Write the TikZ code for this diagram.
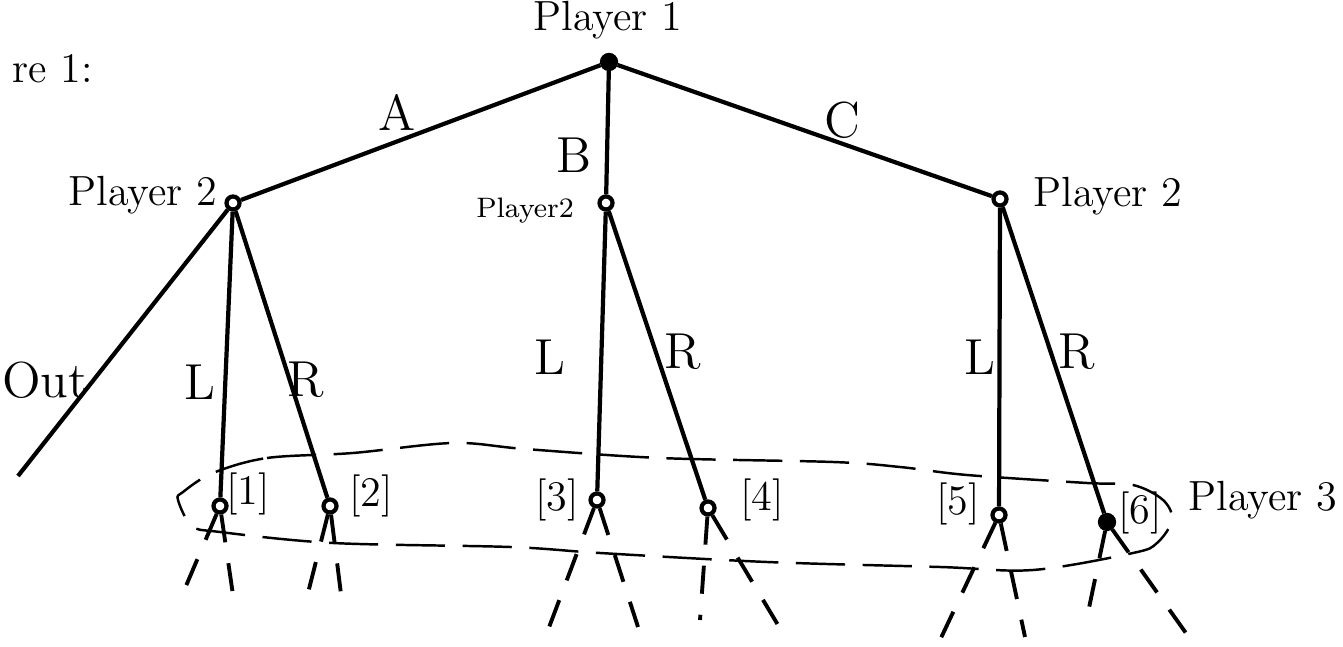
\documentclass[tikz,border=0pt]{standalone}
\usepackage{tikz}
\usetikzlibrary{arrows.meta, positioning}

\begin{document}
\begin{tikzpicture}[x=1cm, y=1cm, font=\large,
    decnode/.style={circle, draw, line width=1.2pt, fill=white, inner sep=0pt, minimum size=0.13cm},
    endnode/.style={circle, draw, line width=1.2pt, fill=black, inner sep=0pt, minimum size=0.14cm},
    branch/.style={line width=1.2pt},
    future/.style={line width=1.1pt, dash pattern=on 8pt off 6pt},
    moveLabel/.style={font=\Large}]

    %% ── Frame (fixes the page size) ───────────────────────────────────────
    \useasboundingbox (0,0) rectangle (13.43, 6.47);

    %% Caption fragment
    \node[anchor=west] (caption) at (0.0, 5.78) {re 1:};

    %% ═══ Decision nodes ═══════════════════════════════════════════════════
    \node[endnode] (root) at (6.09, 5.85) {};
    \node (rootLabel) at (6.08, 6.27) {Player 1};

    \node[decnode] (pTwoA) at (2.33, 4.44) {};
    \node (pTwoALabel) at (1.43, 4.52) {Player 2};

    \node[decnode] (pTwoB) at (6.06, 4.44) {};
    \node[font=\footnotesize] (pTwoBLabel) at (5.25, 4.36) {Player2};

    \node[decnode] (pTwoC) at (10.00, 4.48) {};
    \node (pTwoCLabel) at (11.08, 4.51) {Player 2};

    %% Player 3 nodes
    \node[decnode] (nOne)   at (2.20, 1.41) {};
    \node[decnode] (nTwo)   at (3.30, 1.41) {};
    \node[decnode] (nThree) at (5.97, 1.47) {};
    \node[decnode] (nFour)  at (7.08, 1.39) {};
    \node[decnode] (nFive)  at (9.99, 1.32) {};
    \node[endnode] (nSix)   at (11.07, 1.25) {};

    \node (tagOne)   at (2.48, 1.53) {[1]};
    \node (tagTwo)   at (3.71, 1.51) {[2]};
    \node (tagThree) at (5.57, 1.47) {[3]};
    \node (tagFour)  at (7.62, 1.47) {[4]};
    \node (tagFive)  at (9.58, 1.43) {[5]};
    \node (tagSix)   at (11.40, 1.34) {[6]};

    \node (pThreeLabel) at (12.63, 1.47) {Player 3};

    %% ═══ Branches ═════════════════════════════════════════════════════════
    \coordinate (outEnd) at (0.18, 1.71);

    \draw[branch] (root) -- (pTwoA);
    \draw[branch] (root) -- (pTwoB);
    \draw[branch] (root) -- (pTwoC);

    \draw[branch] (pTwoA) -- (outEnd);
    \draw[branch] (pTwoA) -- (nOne);
    \draw[branch] (pTwoA) -- (nTwo);
    \draw[branch] (pTwoB) -- (nThree);
    \draw[branch] (pTwoB) -- (nFour);
    \draw[branch] (pTwoC) -- (nFive);
    \draw[branch] (pTwoC) -- (nSix);

    %% Move labels
    \node[moveLabel] (moveA) at (3.97, 5.35) {A};
    \node[moveLabel] (moveB) at (5.74, 4.92) {B};
    \node[moveLabel] (moveC) at (8.42, 5.27) {C};
    \node[moveLabel] (moveOut) at (0.45, 2.67) {Out};
    \node[moveLabel] (moveLA) at (2.00, 2.65) {L};
    \node[moveLabel] (moveRA) at (3.06, 2.67) {R};
    \node[moveLabel] (moveLB) at (5.50, 2.90) {L};
    \node[moveLabel] (moveRB) at (6.83, 2.95) {R};
    \node[moveLabel] (moveLC) at (9.80, 2.90) {L};
    \node[moveLabel] (moveRC) at (10.77, 2.95) {R};

    %% ═══ Continuations (dashed) ═══════════════════════════════════════════
    \coordinate (oneL)   at (1.83, 0.54);  \coordinate (oneR)   at (2.33, 0.52);
    \coordinate (twoL)   at (3.07, 0.50);  \coordinate (twoR)   at (3.42, 0.45);
    \coordinate (threeL) at (5.48, 0.17);  \coordinate (threeR) at (6.38, 0.20);
    \coordinate (fourL)  at (7.00, 0.27);  \coordinate (fourR)  at (7.78, 0.22);
    \coordinate (fiveL)  at (9.40, 0.07);  \coordinate (fiveR)  at (10.25, 0.10);
    \coordinate (sixL)   at (10.85, 0.20); \coordinate (sixR)   at (11.93, 0.04);

    \draw[future] (nOne) -- (oneL);     \draw[future] (nOne) -- (oneR);
    \draw[future] (nTwo) -- (twoL);     \draw[future] (nTwo) -- (twoR);
    \draw[future] (nThree) -- (threeL); \draw[future] (nThree) -- (threeR);
    \draw[future] (nFour) -- (fourL);   \draw[future] (nFour) -- (fourR);
    \draw[future] (nFive) -- (fiveL);   \draw[future] (nFive) -- (fiveR);
    \draw[future] (nSix) -- (sixL);     \draw[future] (nSix) -- (sixR);

    %% ═══ Information set of Player 3 ══════════════════════════════════════
    \draw[line width=0.7pt, dash pattern=on 14pt off 5pt]
      plot[smooth cycle, tension=0.55] coordinates {
        (2.13,1.74) (2.67,1.89) (3.53,1.94) (4.53,2.04) (5.25,1.98)
        (6.60,1.89) (8.33,1.85) (9.00,1.80) (9.67,1.72) (10.87,1.64)
        (11.33,1.62) (11.63,1.47) (11.72,1.27) (11.57,1.04) (11.33,0.94)
        (10.33,0.77) (9.40,0.80) (7.67,0.85) (6.00,0.94) (5.10,1.00)
        (3.33,1.04) (2.20,1.15) (1.92,1.21) (1.78,1.47) (1.83,1.55)};

\end{tikzpicture}
\end{document}
